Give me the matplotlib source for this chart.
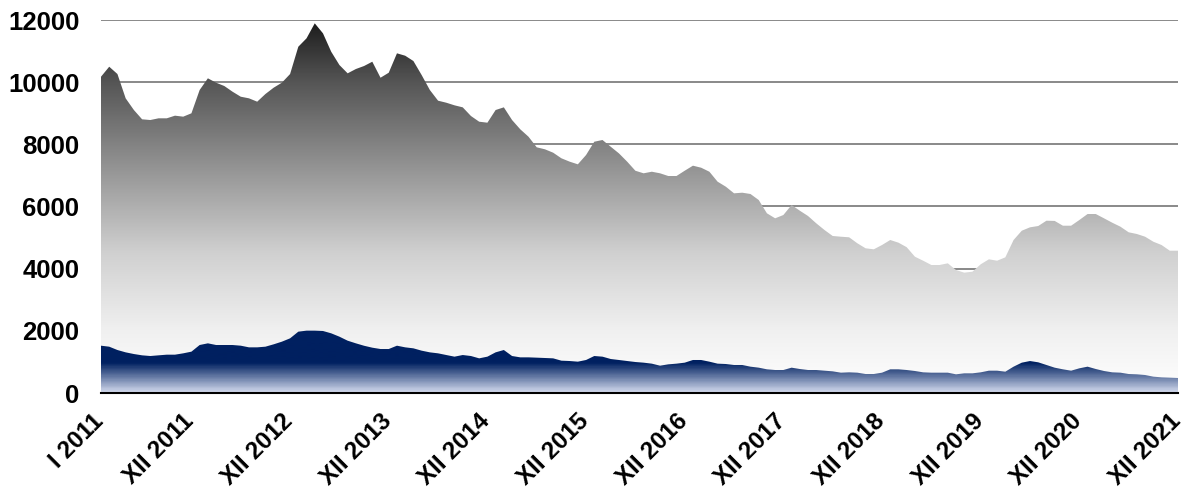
import numpy as np
import matplotlib
matplotlib.use("Agg")
import matplotlib.pyplot as plt
import matplotlib.transforms as mtransforms
from matplotlib.colors import LinearSegmentedColormap

# ---- data (monthly, I 2011 .. XII 2021) ----
gray_series = [
    10175, 10497, 10262, 9480, 9104, 8805, 8782, 8837, 8837, 8922, 8890, 8998,
    9748, 10124, 9983, 9876, 9693, 9532, 9480, 9372, 9619, 9822, 9983, 10262,
    11140, 11410, 11893, 11571, 10980, 10552, 10284, 10423, 10520, 10658, 10143, 10304,
    10928, 10851, 10680, 10230, 9748, 9404, 9339, 9255, 9190, 8911, 8728, 8696,
    9104, 9190, 8782, 8483, 8245, 7904, 7840, 7731, 7551, 7443, 7357, 7656,
    8084, 8139, 7923, 7709, 7443, 7150, 7068, 7119, 7068, 6981, 6981, 7151,
    7313, 7248, 7119, 6798, 6637, 6424, 6444, 6402, 6209, 5781, 5620, 5726,
    6048, 5865, 5694, 5459, 5244, 5051, 5028, 5009, 4816, 4655, 4623, 4761,
    4922, 4836, 4690, 4385, 4256, 4118, 4118, 4172, 3957, 3871, 3903, 4140,
    4301, 4256, 4365, 4922, 5221, 5330, 5372, 5543, 5536, 5382, 5382, 5565,
    5758, 5758, 5620, 5479, 5350, 5170, 5115, 5028, 4867, 4761, 4578, 4578,
]
navy_series = [
    1522, 1490, 1383, 1308, 1254, 1212, 1190, 1212, 1233, 1233, 1276, 1330,
    1544, 1598, 1544, 1544, 1544, 1522, 1469, 1469, 1490, 1566, 1651, 1759,
    1973, 2006, 2006, 1995, 1920, 1812, 1683, 1598, 1520, 1458, 1415, 1415,
    1522, 1469, 1437, 1362, 1308, 1276, 1222, 1169, 1222, 1190, 1115, 1169,
    1308, 1383, 1190, 1147, 1147, 1137, 1126, 1115, 1040, 1029, 1008, 1062,
    1190, 1169, 1094, 1062, 1029, 997, 976, 944, 879, 922, 944, 976,
    1062, 1062, 1008, 944, 933, 901, 901, 847, 815, 762, 740, 740,
    815, 772, 740, 740, 718, 697, 654, 665, 654, 611, 611, 654,
    762, 762, 740, 708, 665, 654, 654, 654, 601, 633, 633, 665,
    718, 718, 686, 847, 976, 1029, 987, 901, 815, 762, 718, 794,
    847, 772, 708, 665, 654, 611, 601, 579, 526, 504, 494, 483,
]
roman = ["I", "II", "III", "IV", "V", "VI", "VII", "VIII", "IX", "X", "XI", "XII"]
years = list(range(2011, 2022))
month_labels = [f"{m} {y}" for y in years for m in roman]
shown_labels = ["I 2011"] + [f"XII {y}" for y in years]
y_ticks = [0, 2000, 4000, 6000, 8000, 10000, 12000]

# ---- figure ----
W, H = 1184, 490
fig = plt.figure(figsize=(W / 100, H / 100), dpi=100)
ax = fig.add_axes([101 / W, (H - 393) / H, (1178 - 101) / W, (393 - 20) / H])

x = np.arange(len(month_labels))
ymax = 12000

gray_cmap = LinearSegmentedColormap.from_list(
    "g", [(0.0, "#ffffff"), (2000 / 12000, "#f0f0f0"), (4500 / 12000, "#d0d0d0"),
          (7000 / 12000, "#999999"), (10000 / 12000, "#555555"), (1.0, "#1a1a1a")])
navy_cmap = LinearSegmentedColormap.from_list(
    "n", [(0.0, "#d0d8ec"), (950 / 12000, "#002060"), (1.0, "#002060")])

grad = np.linspace(0, 1, 600).reshape(-1, 1)

for series, cmap, z in [(gray_series, gray_cmap, 2), (navy_series, navy_cmap, 3)]:
    poly = ax.fill_between(x, 0, series, facecolor="none", edgecolor="none", zorder=z)
    im = ax.imshow(grad, aspect="auto", cmap=cmap, origin="lower",
                   extent=[x[0], x[-1], 0, ymax], zorder=z, interpolation="bilinear")
    path = poly.get_paths()[0]
    im.set_clip_path(path, transform=ax.transData)

ax.set_xlim(x[0], x[-1])
ax.set_ylim(0, ymax)

ax.set_yticks(y_ticks)
ax.set_yticklabels([str(v) for v in y_ticks])
tick_pos = [month_labels.index(l) for l in shown_labels]
ax.set_xticks(tick_pos)
ax.set_xticklabels(shown_labels, rotation=45, ha="right", rotation_mode="anchor")

ax.tick_params(axis="both", length=0)
ax.tick_params(axis="y", pad=15.5)
ax.tick_params(axis="x", pad=12)

for lab in ax.get_yticklabels():
    lab.set_fontfamily("Liberation Sans")
    lab.set_fontweight("bold")
    lab.set_fontsize(18.5)
    lab.set_color("black")

offset = mtransforms.ScaledTranslation(-9 / 100, 0, fig.dpi_scale_trans)
for tick in ax.xaxis.get_major_ticks():
    lab = tick.label1
    lab.set_transform(lab.get_transform() + offset)
    lab.set_fontfamily("Liberation Sans")
    lab.set_fontweight("bold")
    lab.set_fontsize(17.5)
    lab.set_color("black")

ax.grid(axis="y", color="#808080", linewidth=1.3, zorder=1)
ax.set_axisbelow(True)
for s in ["left", "right", "top"]:
    ax.spines[s].set_visible(False)
ax.spines["bottom"].set_color("black")
ax.spines["bottom"].set_linewidth(1.5)
ax.spines["bottom"].set_zorder(5)

fig.savefig("out.png", dpi=100)
